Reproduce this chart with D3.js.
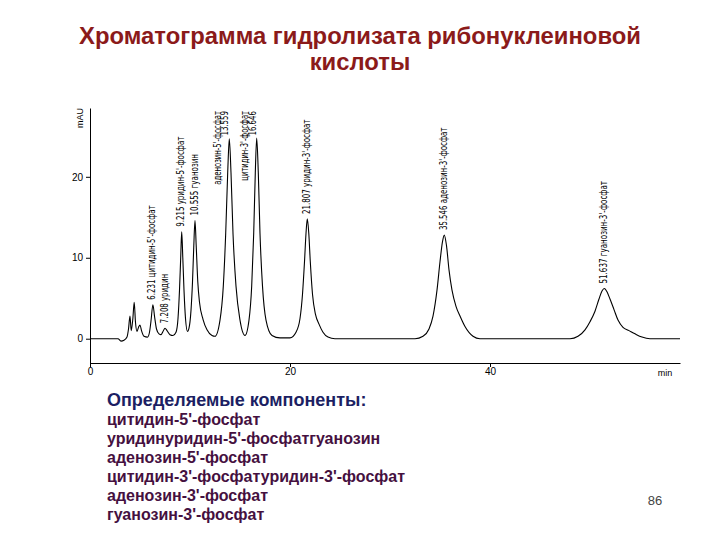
<!DOCTYPE html>
<html><head><meta charset="utf-8">
<script src="https://cdn.jsdelivr.net/npm/d3@7"></script>
<style>body{margin:0;background:#fff}</style>
</head><body>
<svg id="c" width="720" height="540"></svg>
<script>
// ---------- data ----------
const traceTime = [0,2.8,3.1,3.4,3.7,3.85,4.0,4.12,4.28,4.42,4.55,4.7,4.85,5.0,5.15,5.4,5.75,5.95,6.1,6.29,6.45,6.65,6.9,7.1,7.3,7.5,7.7,8.0,8.3,8.6,8.8,8.95,9.07,9.17,9.28,9.4,9.55,9.75,9.9,10.1,10.25,10.38,10.5,10.62,10.78,10.95,11.3,11.7,12.2,12.5,13.0,13.33,13.57,13.77,13.93,14.1,14.3,14.6,15.0,15.5,15.9,16.17,16.37,16.53,16.67,16.83,17.0,17.25,17.6,18.2,19.0,20.0,20.6,21.0,21.25,21.45,21.6,21.73,21.88,22.03,22.25,22.55,22.9,23.3,23.8,24.5,32.5,33.3,33.9,34.3,34.7,35.0,35.25,35.43,35.65,35.9,36.2,36.6,37.0,37.5,38.3,39.0,48.0,48.8,49.5,50.0,50.5,50.9,51.2,51.43,51.7,52.0,52.4,52.8,53.3,53.9,54.5,55.2,56.0,59.0];
const traceSignal = [0,0,-0.3,-0.2,0.2,1.2,2.8,1.0,2.4,4.5,2.0,0.9,1.4,1.7,1.0,0.3,0.2,0.8,2.2,4.2,2.8,1.2,0.6,0.5,0.9,1.3,1.0,0.5,0.4,0.8,2.5,6,10,13.2,10,6,2.5,0.9,1.3,3.5,7,11.5,14.6,11.5,7,4.5,2.4,1.1,0.4,0.3,2.3,6.5,13,20.5,24.7,20.5,13,6.5,2.3,0.4,2.3,6.5,13,20.5,24.8,20.5,13,6.5,2.3,0.4,0.1,0.1,0.8,2.5,5.5,9.5,13,14.8,13,9.5,5.5,3,1.8,0.8,0.2,0,0,0.3,1.2,2.8,6,9.5,12,12.8,11.5,8.5,6,4,2.8,1.5,0.3,0,0,0.3,1.1,2.1,3.4,4.9,5.9,6.2,5.8,4.9,3.6,2.3,1.4,1.0,0.6,0.2,0,0];

const xTicks = [0, 20, 40];
const yTicks = [0, 10, 20];
const xUnit = "min";
const yUnit = "mAU";

const peakRT = ["6.231","7.208","9.215","10.555","13.559","16.646","21.807","35.546","51.637"];
const peakName = ["цитидин-5'-фосфат","уридин","уридин-5'-фосфат","гуанозин","аденозин-5'-фосфат","цитидин-3'-фосфат","уридин-3'-фосфат","аденозин-3'-фосфат","гуанозин-3'-фосфат"];
const peakApexTime = [6.29, 7.5, 9.17, 10.5, 13.93, 16.67, 21.73, 35.43, 51.43];
const peakApexSignal = [4.2, 1.3, 13.2, 14.6, 24.7, 24.8, 14.8, 12.8, 6.2];

const titleLines = ["Хроматограмма гидролизата рибонуклеиновой", "кислоты"];
const legendHeader = "Определяемые компоненты:";
const legendItems = ["цитидин-5'-фосфат","уридинуридин-5'-фосфатгуанозин","аденозин-5'-фосфат","цитидин-3'-фосфатуридин-3'-фосфат","аденозин-3'-фосфат","гуанозин-3'-фосфат"];
const pageNumber = "86";

// ---------- drawing ----------
const svg = d3.select("#c");
svg.append("rect").attr("width",720).attr("height",540).attr("fill","#fff");

const x = d3.scaleLinear().domain([0, 59]).range([90, 680]);
const y = d3.scaleLinear().domain([-3.0, 28.5]).range([363, 108]);

// title (horizontally condensed to the reference width)
const tg = svg.append("g").attr("font-family","'Liberation Sans',Arial,sans-serif")
  .attr("font-weight","bold").attr("font-size","24px").attr("fill","#8b1a1a").attr("text-anchor","middle");
const tNodes = titleLines.map((t,i)=> tg.append("text").attr("x",360).attr("y",44 + i*26).text(t));
const squeeze = 562 / tNodes[0].node().getComputedTextLength();
tNodes.forEach(n=>{
  const w = n.node().getComputedTextLength();
  n.attr("textLength", w*squeeze).attr("lengthAdjust","spacingAndGlyphs");
});

// axes
const axFont = "'Liberation Sans',Arial,sans-serif";
const yAxis = svg.append("g").attr("transform","translate(90,0)")
  .call(d3.axisLeft(y).tickValues(yTicks).tickSize(4).tickSizeOuter(0).tickFormat(d3.format("d")));
const xAxis = svg.append("g").attr("transform","translate(0,363)")
  .call(d3.axisBottom(x).tickValues(xTicks).tickSize(4).tickSizeOuter(0).tickFormat(d3.format("d")));
[yAxis, xAxis].forEach(a=>{
  a.selectAll("text").attr("font-family",axFont).attr("font-size","10px").attr("fill","#000");
  a.selectAll("path,line").attr("stroke","#000");
});
xAxis.selectAll("text").attr("dy","0.5em");
svg.append("text").attr("x",665).attr("y",376).attr("text-anchor","middle")
  .attr("font-family",axFont).attr("font-size","9px").text(xUnit);
svg.append("text").attr("transform","translate(80,118) rotate(-90)").attr("text-anchor","middle")
  .attr("dy","0.35em").attr("font-family",axFont).attr("font-size","9px").text(yUnit);

// trace
const pts = traceTime.map((t,i)=>[t, traceSignal[i]]);
svg.append("path").datum(pts)
  .attr("fill","none").attr("stroke","#000").attr("stroke-width",1.1)
  .attr("d", d3.line().x(d=>x(d[0])).y(d=>y(d[1])).curve(d3.curveMonotoneX));

// peak labels
const lab = svg.append("g").attr("font-family","'DejaVu Sans Condensed','Liberation Sans',sans-serif")
  .attr("font-size","10px").attr("fill","#000");
const charW = 4.1;
peakRT.forEach((rt,i)=>{
  const px = x(peakApexTime[i]), py = y(peakApexSignal[i]);
  const full = rt + " " + peakName[i];
  const len = full.length * charW;
  if (py - 5 - len >= y.range()[1]) {
    lab.append("text").attr("transform",`translate(${px-1},${py-5}) rotate(-90)`)
      .attr("dy","0.35em").attr("text-anchor","start")
      .attr("textLength",len).attr("lengthAdjust","spacingAndGlyphs").text(full);
  } else {
    const top = y.range()[1] + 3;
    lab.append("text").attr("transform",`translate(${px-12},${top}) rotate(-90)`)
      .attr("dy","0.35em").attr("text-anchor","end")
      .attr("textLength",peakName[i].length*charW).attr("lengthAdjust","spacingAndGlyphs").text(peakName[i]);
    lab.append("text").attr("transform",`translate(${px-4.5},${top}) rotate(-90)`)
      .attr("dy","0.35em").attr("text-anchor","end")
      .attr("textLength",rt.length*charW).attr("lengthAdjust","spacingAndGlyphs").text(rt);
  }
});

// legend text block
const lg = svg.append("g").attr("font-family","'Liberation Sans',Arial,sans-serif").attr("font-weight","bold");
lg.append("text").attr("x",107).attr("y",406).attr("font-size","18px").attr("fill","#1c1f63").text(legendHeader);
legendItems.forEach((t,i)=>{
  lg.append("text").attr("x",107).attr("y",425 + i*19).attr("font-size","16px").attr("fill","#45103f").text(t);
});

// page number
svg.append("text").attr("x",655).attr("y",505).attr("text-anchor","middle")
  .attr("font-family","'Liberation Sans',Arial,sans-serif").attr("font-size","13px").attr("fill","#444").text(pageNumber);
</script>
</body></html>
